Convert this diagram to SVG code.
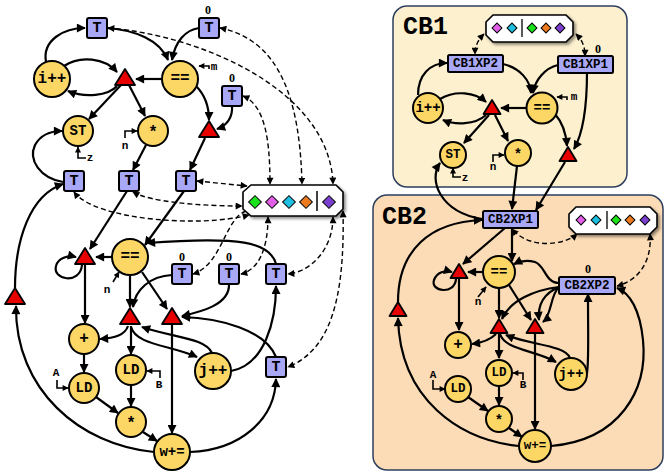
<svg xmlns="http://www.w3.org/2000/svg" width="665" height="473" viewBox="0 0 665 473">
<style>
.c{fill:#fdd766;stroke:#000;stroke-width:2}
.t{fill:#a8a8f6;stroke:#000;stroke-width:2}
.tr{fill:#e80000;stroke:#000;stroke-width:1.8;stroke-linejoin:round}
.e{fill:none;stroke:#000;stroke-width:2.2;marker-end:url(#ah)}
.d{fill:none;stroke:#000;stroke-width:1.4;stroke-dasharray:5 3;marker-end:url(#ad)}
.b{marker-start:url(#ad)}
.s{fill:none;stroke:#000;stroke-width:1.6;marker-end:url(#as)}
.l{font-family:"Liberation Mono",monospace;font-weight:bold;text-anchor:middle;dominant-baseline:central;fill:#000}
.z{font-family:"Liberation Serif",serif;font-weight:bold;text-anchor:middle;dominant-baseline:central;font-size:12px}
.big{font-size:16px}
.sm{font-size:14px}
.tx{font-size:15px}
.lb{font-size:11px}
.xp{font-size:12.5px}
.tok{fill:#fff;stroke:#000;stroke-width:1.6;filter:url(#sh)}
.dm{stroke:#000;stroke-width:1}
</style>
<defs>
<marker id="ah" viewBox="0 0 10 10" refX="9" refY="5" markerWidth="10" markerHeight="9" markerUnits="userSpaceOnUse" orient="auto-start-reverse"><path d="M0,0 L10,5 L0,10 z"/></marker>
<marker id="ad" viewBox="0 0 10 10" refX="9" refY="5" markerWidth="8" markerHeight="7" markerUnits="userSpaceOnUse" orient="auto-start-reverse"><path d="M0,0 L10,5 L0,10 z"/></marker>
<marker id="as" viewBox="0 0 10 10" refX="9" refY="5" markerWidth="7" markerHeight="6" markerUnits="userSpaceOnUse" orient="auto"><path d="M0,0 L10,5 L0,10 z"/></marker>
<filter id="sh" x="-10%" y="-20%" width="130%" height="160%"><feDropShadow dx="2" dy="2" stdDeviation="1.8" flood-opacity="0.45"/></filter>
</defs>

<!-- panels -->
<g id="panel-cb1"><rect x="393" y="6" width="234" height="181" rx="14" fill="#fdf0cf" stroke="#2d3f5e" stroke-width="1.5"/><text x="403" y="27" class="l" style="font-size:25px;text-anchor:start">CB1</text></g>
<g id="panel-cb2"><rect x="373" y="195" width="290" height="275" rx="14" fill="#fcdcb6" stroke="#2d3f5e" stroke-width="1.5"/><text x="382" y="217" class="l" style="font-size:25px;text-anchor:start">CB2</text></g>

<g id="connectors">
<!-- left solid -->
<path class="e" d="M46 62 C42 40 64 28 85 28"/>
<path class="e" d="M107 28 C135 30 160 40 168 60"/>
<path class="e" d="M199 28 C185 30 175 42 172 60"/>
<path class="e" d="M64 66 C80 55 105 58 117 72"/>
<path class="e" d="M117 86 C108 96 85 98 68 91"/>
<path class="e" d="M162 79 L136 79"/>
<path class="e" d="M121 85 L89 119"/>
<path class="e" d="M129 85 L145 116"/>
<path class="e" d="M196 86 C205 95 209 105 209 120"/>
<path class="e" d="M232 106 C233 118 226 126 217 129"/>
<path class="e" d="M205 138 L190 170"/>
<path class="e" d="M146 145 L133 170"/>
<path class="e" d="M63 182 C40 178 28 160 35 145 C40 136 50 131 62 131"/>
<path class="e" d="M15 288 C15 240 30 195 63 184"/>
<path class="e" d="M127 191 L90 249"/>
<path class="e" d="M184 191 L145 245"/>
<path class="e" d="M112 257 L96 257"/>
<path class="e" d="M82 265 C80 285 52 280 56 266 C58 258 68 255 76 257"/>
<path class="e" d="M85 265 L85 323"/>
<path class="e" d="M84 354 L84 372"/>
<path class="e" d="M130 276 L130 307"/>
<path class="e" d="M142 272 L167 309"/>
<path class="e" d="M172 275 C150 276 135 290 133 307"/>
<path class="e" d="M229 284 C230 305 200 312 182 316"/>
<path class="e" d="M276 264 C270 242 240 236 147 243"/>
<path class="e" d="M276 357 C265 330 220 318 182 317"/>
<path class="e" d="M231 371 C265 365 276 320 276 286"/>
<path class="e" d="M128 326 C125 335 115 338 100 339"/>
<path class="e" d="M131 326 L131 354"/>
<path class="e" d="M131 327 C136 345 170 345 197 357"/>
<path class="e" d="M212 353 C205 338 175 338 142 327"/>
<path class="e" d="M172 325 L172 433"/>
<path class="e" d="M96 397 L118 413"/>
<path class="e" d="M131 385 L131 406"/>
<path class="e" d="M143 432 L157 441"/>
<path class="e" d="M154 452 C80 445 15 390 16 306"/>
<path class="e" d="M190 452 C240 450 275 420 276 379"/>
<!-- left dashed -->
<path class="d b" d="M220 28 C280 40 300 100 302 184"/>
<path class="d b" d="M108 28 C200 35 330 90 333 184"/>
<path class="d b" d="M243 96 C265 105 270 140 270 184"/>
<path class="d b" d="M197 181 L247 186"/>
<path class="d b" d="M133 192 C150 202 200 206 242 206"/>
<path class="d b" d="M74 192 C95 220 200 228 249 215"/>
<path class="d" d="M246 211 C225 218 222 265 193 274"/>
<path class="d b" d="M268 217 C268 250 258 270 241 274"/>
<path class="d b" d="M333 217 C333 250 310 272 288 274"/>
<path class="d b" d="M343 211 C345 300 330 350 288 367"/>
<!-- left label arrows -->
<path class="s" d="M86 158 L78 158 L78 147"/>
<path class="s" d="M125 138 L125 131 L137 131"/>
<path class="s" d="M209 69 L209 66 L199 66"/>
<path class="s" d="M113 282 L119 272"/>
<path class="s" d="M57 380 L57 388 L68 388"/>
<path class="s" d="M160 378 L160 371 L147 371"/>

<!-- right CB1 -->
<path class="d b" d="M484 34 C478 40 475 46 475 54"/>
<path class="d b" d="M576 34 C582 40 585 46 585 56"/>
<path class="e" d="M418 95 C418 75 430 63 447 63"/>
<path class="e" d="M503 64 C520 68 530 80 531 93"/>
<path class="e" d="M558 65 C545 68 535 80 533 93"/>
<path class="e" d="M440 99 C455 90 475 92 486 102"/>
<path class="e" d="M486 115 C475 125 455 125 443 120"/>
<path class="e" d="M526 108 L501 108"/>
<path class="e" d="M489 115 L464 143"/>
<path class="e" d="M495 115 L508 141"/>
<path class="e" d="M555 114 C562 122 566 132 567 146"/>
<path class="e" d="M587 72 C587 100 585 130 574 149"/>
<path class="s" d="M567 100 L567 97 L557 97"/>
<path class="s" d="M461 177 L453 177 L453 168"/>
<path class="s" d="M493 162 L493 155 L504 155"/>
<!-- cross -->
<path class="e" d="M482 219 C440 212 428 180 440 163"/>
<path class="e" d="M517 166 L512 209"/>
<path class="e" d="M565 162 L536 210"/>
<path class="e" d="M398 302 C398 250 430 222 482 220"/>
<!-- CB2 -->
<path class="d b" d="M577 234 C565 245 530 250 512 229"/>
<path class="d b" d="M650 234 C652 260 640 280 617 286"/>
<path class="e" d="M505 228 L463 264"/>
<path class="e" d="M512 228 L512 261"/>
<path class="e" d="M559 283 C545 283 545 265 535 262 C528 260 520 261 514 264"/>
<path class="e" d="M483 272 L468 272"/>
<path class="e" d="M456 279 C455 295 430 292 434 280 C437 272 445 270 452 272"/>
<path class="e" d="M459 279 L459 330"/>
<path class="e" d="M499 288 L499 318"/>
<path class="e" d="M509 285 L531 320"/>
<path class="e" d="M559 287 C535 290 510 300 502 319"/>
<path class="e" d="M559 287 C540 295 538 310 539 320"/>
<path class="e" d="M559 287 C550 295 552 315 543 322"/>
<path class="e" d="M496 334 C490 340 480 343 472 344"/>
<path class="e" d="M499 334 L499 358"/>
<path class="e" d="M500 334 C505 350 535 350 556 362"/>
<path class="e" d="M570 358 C565 345 530 345 506 335"/>
<path class="e" d="M535 334 L535 429"/>
<path class="e" d="M587 373 C589 360 588 340 588 294"/>
<path class="e" d="M551 446 C620 440 648 390 643 340 C640 310 630 293 617 288"/>
<path class="e" d="M519 446 C460 440 400 400 398 318"/>
<path class="e" d="M468 397 L488 411"/>
<path class="e" d="M499 386 L499 405"/>
<path class="e" d="M509 428 L522 437"/>
<path class="s" d="M478 297 L486 287"/>
<path class="s" d="M433 380 L433 389 L445 389"/>
<path class="s" d="M523 380 L523 373 L513 373"/>
</g>

<!-- left nodes -->
<g id="T1"><rect class="t" x="87" y="18" width="20" height="20" rx="2"/><text class="l tx" x="97" y="28">T</text></g>
<g id="T2"><rect class="t" x="199" y="18" width="20" height="20" rx="2"/><text class="l tx" x="209" y="28">T</text><text class="z" x="208" y="10">0</text></g>
<g id="T3"><rect class="t" x="222" y="86" width="20" height="20" rx="2"/><text class="l tx" x="232" y="96">T</text><text class="z" x="232" y="78">0</text></g>
<g id="inc-i"><circle class="c" cx="52" cy="79" r="18"/><text class="l big" x="52" y="79">i++</text></g>
<g id="eq1"><circle class="c" cx="180" cy="79" r="18"/><text class="l big" x="180" y="79">==</text><text class="l lb" x="214" y="67">m</text></g>
<g id="tri1"><polygon class="tr" points="125,69 115,85 135,85"/></g>
<g id="tri2"><polygon class="tr" points="209,121 199,137 219,137"/></g>
<g id="ST"><circle class="c" cx="78" cy="131" r="15"/><text class="l sm" x="78" y="131">ST</text><text class="l lb" x="90" y="158">z</text></g>
<g id="mul1"><circle class="c" cx="153" cy="131" r="15"/><text class="l big" x="153" y="133">*</text><text class="l lb" x="125" y="146">n</text></g>
<g id="T4"><rect class="t" x="64" y="171" width="20" height="20" rx="2"/><text class="l tx" x="74" y="181">T</text></g>
<g id="T5"><rect class="t" x="119" y="171" width="20" height="20" rx="2"/><text class="l tx" x="129" y="181">T</text></g>
<g id="T6"><rect class="t" x="176" y="171" width="20" height="20" rx="2"/><text class="l tx" x="186" y="181">T</text></g>
<g id="tokens-left"><polygon class="tok" points="251,185 336,185 343,192 343,209 336,216 251,216 243,209 243,192"/>
<rect class="dm" x="250.5" y="197.5" width="9" height="9" transform="rotate(45 255 202)" fill="#1be31b"/>
<rect class="dm" x="267.5" y="197.5" width="9" height="9" transform="rotate(45 272 202)" fill="#e15ee8"/>
<rect class="dm" x="284.5" y="197.5" width="9" height="9" transform="rotate(45 289 202)" fill="#1ebfe0"/>
<rect class="dm" x="301.5" y="197.5" width="9" height="9" transform="rotate(45 306 202)" fill="#ec7a1e"/>
<line x1="317" y1="191" x2="317" y2="211" stroke="#000" stroke-width="1.5"/>
<rect class="dm" x="324.5" y="197.5" width="9" height="9" transform="rotate(45 329 202)" fill="#7a3fcf"/></g>
<g id="tri3"><polygon class="tr" points="85,248 75,264 95,264"/></g>
<g id="eq2"><circle class="c" cx="130" cy="257" r="18"/><text class="l big" x="130" y="257">==</text><text class="l lb" x="107" y="290">n</text></g>
<g id="T7"><rect class="t" x="172" y="264" width="20" height="20" rx="2"/><text class="l tx" x="182" y="274">T</text><text class="z" x="182" y="257">0</text></g>
<g id="T9"><rect class="t" x="219" y="264" width="20" height="20" rx="2"/><text class="l tx" x="229" y="274">T</text><text class="z" x="229" y="257">0</text></g>
<g id="T10"><rect class="t" x="266" y="264" width="20" height="20" rx="2"/><text class="l tx" x="276" y="274">T</text></g>
<g id="tri4"><polygon class="tr" points="15,288 5,304 25,304"/></g>
<g id="tri5"><polygon class="tr" points="130,308 120,324 140,324"/></g>
<g id="tri6"><polygon class="tr" points="172,308 162,324 182,324"/></g>
<g id="add"><circle class="c" cx="84" cy="339" r="15"/><text class="l big" x="84" y="339">+</text></g>
<g id="LD1"><circle class="c" cx="84" cy="388" r="15"/><text class="l sm" x="84" y="388">LD</text><text class="l lb" x="56" y="373">A</text></g>
<g id="LD2"><circle class="c" cx="131" cy="370" r="15"/><text class="l sm" x="131" y="370">LD</text><text class="l lb" x="159" y="385">B</text></g>
<g id="inc-j"><circle class="c" cx="213" cy="371" r="18"/><text class="l big" x="213" y="371">j++</text></g>
<g id="T11"><rect class="t" x="266" y="357" width="20" height="20" rx="2"/><text class="l tx" x="276" y="367">T</text></g>
<g id="mul2"><circle class="c" cx="131" cy="422" r="15"/><text class="l big" x="131" y="424">*</text></g>
<g id="wadd"><circle class="c" cx="172" cy="452" r="18"/><text class="l sm" x="172" y="452">w+=</text></g>

<!-- CB1 nodes -->
<g id="tokens-cb1"><polygon class="tok" points="493,15 566,15 573,22 573,35 566,42 493,42 486,35 486,22"/>
<rect class="dm" x="493.5" y="24.5" width="7" height="7" transform="rotate(45 497 28)" fill="#e15ee8"/>
<rect class="dm" x="508.5" y="24.5" width="7" height="7" transform="rotate(45 512 28)" fill="#1ebfe0"/>
<line x1="522" y1="19" x2="522" y2="37" stroke="#000" stroke-width="1.3"/>
<rect class="dm" x="528.5" y="24.5" width="7" height="7" transform="rotate(45 532 28)" fill="#1be31b"/>
<rect class="dm" x="542.5" y="24.5" width="7" height="7" transform="rotate(45 546 28)" fill="#ec7a1e"/>
<rect class="dm" x="556.5" y="24.5" width="7" height="7" transform="rotate(45 560 28)" fill="#7a3fcf"/></g>
<g id="CB1XP2"><rect class="t" x="448" y="55" width="55" height="17" rx="1.5"/><text class="l xp" x="475.5" y="63.5">CB1XP2</text></g>
<g id="CB1XP1"><rect class="t" x="558" y="56" width="55" height="17" rx="1.5"/><text class="l xp" x="585.5" y="64.5">CB1XP1</text><text class="z" x="598" y="49">0</text></g>
<g id="cb1-inc"><circle class="c" cx="428" cy="108" r="15"/><text class="l sm" x="428" y="108">i++</text></g>
<g id="cb1-tri1"><polygon class="tr" points="492,100 483.5,114 500.5,114"/></g>
<g id="cb1-eq"><circle class="c" cx="542" cy="108" r="15.5"/><text class="l sm" x="542" y="108">==</text><text class="l lb" x="574" y="97">m</text></g>
<g id="cb1-tri2"><polygon class="tr" points="568,147 559.5,161 576.5,161"/></g>
<g id="cb1-ST"><circle class="c" cx="453" cy="155" r="13"/><text class="l" style="font-size:12.5px" x="453" y="155">ST</text><text class="l lb" x="465" y="178">z</text></g>
<g id="cb1-mul"><circle class="c" cx="518" cy="153" r="13"/><text class="l sm" x="518" y="155">*</text><text class="l lb" x="493" y="167">n</text></g>

<!-- CB2 nodes -->
<g id="CB2XP1"><rect class="t" x="483" y="211" width="55" height="17" rx="1.5"/><text class="l xp" x="510.5" y="219.5">CB2XP1</text></g>
<g id="tokens-cb2"><polygon class="tok" points="576,207 650,207 657,214 657,227 650,234 576,234 569,227 569,214"/>
<rect class="dm" x="577.5" y="216.5" width="7" height="7" transform="rotate(45 581 220)" fill="#e15ee8"/>
<rect class="dm" x="592.5" y="216.5" width="7" height="7" transform="rotate(45 596 220)" fill="#1ebfe0"/>
<line x1="607" y1="211" x2="607" y2="229" stroke="#000" stroke-width="1.3"/>
<rect class="dm" x="612.5" y="216.5" width="7" height="7" transform="rotate(45 616 220)" fill="#1be31b"/>
<rect class="dm" x="626.5" y="216.5" width="7" height="7" transform="rotate(45 630 220)" fill="#ec7a1e"/>
<rect class="dm" x="641.5" y="216.5" width="7" height="7" transform="rotate(45 645 220)" fill="#7a3fcf"/></g>
<g id="cb2-eq"><circle class="c" cx="499" cy="272" r="16"/><text class="l sm" x="499" y="272">==</text><text class="l lb" x="478" y="302">n</text></g>
<g id="cb2-tri1"><polygon class="tr" points="459,264 450.5,278 467.5,278"/></g>
<g id="CB2XP2"><rect class="t" x="559" y="277" width="56" height="17" rx="1.5"/><text class="l xp" x="587" y="285.5">CB2XP2</text><text class="z" x="588" y="269">0</text></g>
<g id="cb2-tri4"><polygon class="tr" points="398,302 389.5,316 406.5,316"/></g>
<g id="cb2-tri5"><polygon class="tr" points="499,319 490.5,333 507.5,333"/></g>
<g id="cb2-tri6"><polygon class="tr" points="535,319 526.5,333 543.5,333"/></g>
<g id="cb2-add"><circle class="c" cx="458" cy="345" r="13"/><text class="l big" x="458" y="345">+</text></g>
<g id="cb2-LD1"><circle class="c" cx="458" cy="389" r="13"/><text class="l" style="font-size:12.5px" x="458" y="389">LD</text><text class="l lb" x="433" y="375">A</text></g>
<g id="cb2-LD2"><circle class="c" cx="499" cy="373" r="13"/><text class="l" style="font-size:12.5px" x="499" y="373">LD</text><text class="l lb" x="523" y="385">B</text></g>
<g id="cb2-inc"><circle class="c" cx="571" cy="374" r="16"/><text class="l sm" x="571" y="374">j++</text></g>
<g id="cb2-mul"><circle class="c" cx="499" cy="419" r="13"/><text class="l sm" x="499" y="421">*</text></g>
<g id="cb2-wadd"><circle class="c" cx="535" cy="446" r="16"/><text class="l" style="font-size:12.5px" x="535" y="446">w+=</text></g>
</svg>
